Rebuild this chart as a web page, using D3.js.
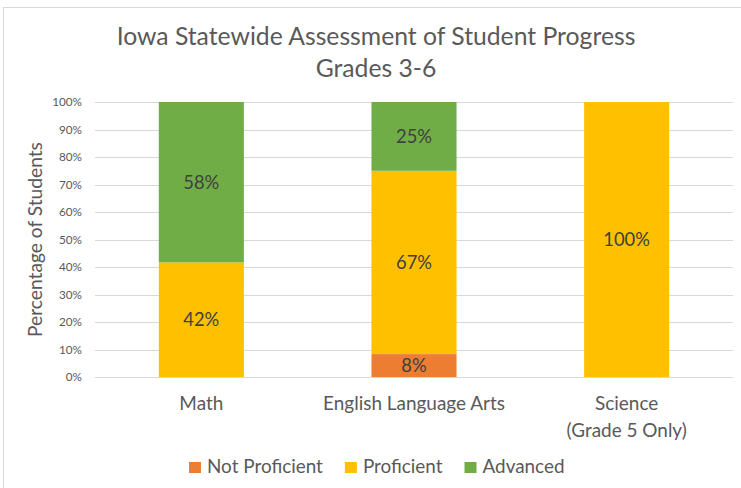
<!DOCTYPE html>
<html>
<head>
<meta charset="utf-8">
<script src="https://cdn.jsdelivr.net/npm/d3@7"></script>
<style>
  html, body { margin: 0; padding: 0; background: #fff; }
  svg { display: block; font-family: Lato, "Open Sans", sans-serif; }
</style>
</head>
<body>
<svg id="chart" width="741" height="488"></svg>
<script>
// ---- data ----
const titleLines = ["Iowa Statewide Assessment of Student Progress", "Grades 3-6"];
const categories = ["Math", "English Language Arts", "Science\n(Grade 5 Only)"];
const seriesNames = ["Not Proficient", "Proficient", "Advanced"];
const notProficient = [0, 8.33, 0];
const proficient = [41.67, 66.67, 100];
const advanced = [58.33, 25, 0];
const yTicks = [0, 10, 20, 30, 40, 50, 60, 70, 80, 90, 100];
const yAxisTitle = "Percentage of Students";
const colors = ["#ED7D31", "#FFC000", "#70AD47"];

// ---- layout ----
const svg = d3.select("#chart");
const W = 741, H = 488;
const plot = { left: 95, right: 733, top: 102, bottom: 377 };
const textColor = "#595959";

svg.append("rect").attr("x", 0).attr("y", 0).attr("width", W).attr("height", H).attr("fill", "#fff");
svg.append("rect").attr("x", 3.5).attr("y", 7.5).attr("width", W).attr("height", H)
  .attr("fill", "none").attr("stroke", "#d9d9d9").attr("stroke-width", 1);

// helper: font size that makes a sample string reach a target width
function fittedSize(sample, targetWidth, base) {
  const t = svg.append("text").attr("font-size", base).text(sample);
  const w = t.node().getComputedTextLength();
  t.remove();
  return w > 0 ? base * targetWidth / w : base;
}

const titleSize = fittedSize(titleLines[0], 519, 24);
const catSize = fittedSize("English Language Arts", 182, 16);
const legendSize = fittedSize("Not Proficient", 116, 16);
const labelSize = fittedSize("25%", 36, 18);
const tickSize = fittedSize("80%", 23, 13);
const yTitleSize = fittedSize(yAxisTitle, 195, 18);

// title
svg.append("text").attr("x", 376).attr("y", 45).attr("text-anchor", "middle")
  .attr("font-size", titleSize).attr("fill", textColor).text(titleLines[0]);
svg.append("text").attr("x", 376).attr("y", 77).attr("text-anchor", "middle")
  .attr("font-size", titleSize).attr("fill", textColor).text(titleLines[1]);

// scales
const x = d3.scaleBand().domain(categories).range([plot.left, plot.right])
  .paddingInner(0.6).paddingOuter(0.3);
const y = d3.scaleLinear().domain([0, 100]).range([plot.bottom, plot.top]);

// gridlines
svg.append("g").selectAll("line").data(yTicks).join("line")
  .attr("x1", plot.left).attr("x2", plot.right)
  .attr("y1", d => Math.round(y(d)) + 0.5).attr("y2", d => Math.round(y(d)) + 0.5)
  .attr("stroke", "#d9d9d9").attr("stroke-width", 1);

// y axis labels
const yAxis = d3.axisLeft(y).tickValues(yTicks).tickFormat(d => d + "%").tickSize(0).tickPadding(13);
const yg = svg.append("g").attr("transform", `translate(${plot.left},0)`).call(yAxis);
yg.select(".domain").remove();
yg.selectAll("text").attr("font-size", tickSize).attr("fill", textColor).attr("font-family", "Lato, sans-serif");

// stack
const rows = categories.map((c, i) => ({ cat: c, "Not Proficient": notProficient[i], "Proficient": proficient[i], "Advanced": advanced[i] }));
const stacked = d3.stack().keys(seriesNames)(rows);

const layers = svg.append("g").selectAll("g").data(stacked).join("g")
  .attr("fill", (d, i) => colors[i]);
layers.selectAll("rect").data(d => d.map(v => ({ v, key: d.key }))).join("rect")
  .attr("x", d => x(d.v.data.cat))
  .attr("width", x.bandwidth())
  .attr("y", d => y(d.v[1]))
  .attr("height", d => y(d.v[0]) - y(d.v[1]));

// data labels
const labels = svg.append("g");
stacked.forEach(layer => {
  layer.forEach(v => {
    const val = v[1] - v[0];
    if (val <= 0) return;
    labels.append("text")
      .attr("x", x(v.data.cat) + x.bandwidth() / 2)
      .attr("y", (y(v[0]) + y(v[1])) / 2)
      .attr("dy", "0.35em")
      .attr("text-anchor", "middle")
      .attr("font-size", labelSize)
      .attr("fill", "#404040")
      .text(Math.round(val) + "%");
  });
});

// x axis labels
const xl = svg.append("g");
categories.forEach(c => {
  const lines = c.split("\n");
  const t = xl.append("text").attr("x", x(c) + x.bandwidth() / 2).attr("y", 410)
    .attr("text-anchor", "middle").attr("font-size", catSize).attr("fill", textColor);
  lines.forEach((ln, i) => {
    t.append("tspan").attr("x", x(c) + x.bandwidth() / 2).attr("dy", i === 0 ? 0 : 27).text(ln);
  });
});

// y axis title
svg.append("text")
  .attr("transform", `translate(42, ${(plot.top + plot.bottom) / 2}) rotate(-90)`)
  .attr("text-anchor", "middle").attr("font-size", yTitleSize).attr("fill", textColor)
  .text(yAxisTitle);

// legend
const lg = svg.append("g");
let lx = 189;
seriesNames.forEach((s, i) => {
  lg.append("rect").attr("x", lx).attr("y", 462).attr("width", 12).attr("height", 11).attr("fill", colors[i]);
  const t = lg.append("text").attr("x", lx + 18).attr("y", 473).attr("font-size", legendSize).attr("fill", textColor).text(s);
  lx += 18 + t.node().getComputedTextLength() + 22;
});
</script>
</body>
</html>
